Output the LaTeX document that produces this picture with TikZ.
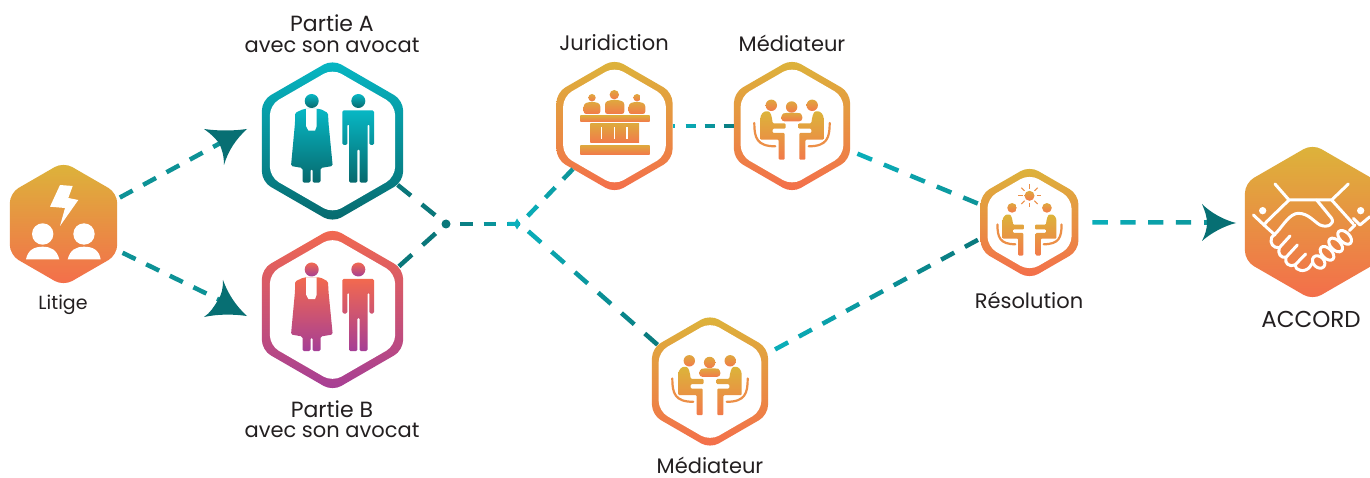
\documentclass[tikz,border=0pt]{standalone}
\usepackage{fontspec}
\setmainfont{Poppins}
\usetikzlibrary{shapes.geometric,calc}
\definecolor{yel}{HTML}{DCB43A}
\definecolor{ora}{HTML}{F46D4B}
\definecolor{tealtop}{HTML}{07B7C4}
\definecolor{tealbot}{HTML}{07696D}
\definecolor{redtop}{HTML}{F2694F}
\definecolor{purbot}{HTML}{A53E96}
\definecolor{ic1}{HTML}{DFA83E}
\definecolor{ic2}{HTML}{F27A4A}
\definecolor{chairc}{HTML}{EC8F47}
\definecolor{linelt}{HTML}{0AB0BC}
\definecolor{linemd}{HTML}{0D9296}
\definecolor{linedk}{HTML}{0A777A}
\definecolor{arrowc}{HTML}{076F73}
\definecolor{txt}{HTML}{231F20}
\tikzset{
  hexshape/.style={regular polygon,regular polygon sides=6,shape border rotate=30,inner sep=0pt,outer sep=0pt,minimum size=#1,rounded corners=10pt},
  goldhex/.style={hexshape=#1,top color=yel,bottom color=ora},
  tealhex/.style={hexshape=#1,top color=tealtop,bottom color=tealbot},
  redhex/.style={hexshape=#1,top color=redtop,bottom color=purbot},
  innerhex/.style={hexshape=#1,fill=white},
  lbl/.style={text=txt,font=\fontsize{21}{24}\selectfont,inner sep=0pt,anchor=center},
  connseg/.style={line width=4.5pt},
  headshade/.style={top color=ic1,bottom color=ic2},
  handline/.style={draw=white,line width=3pt,line cap=round,line join=round},
}
\newcommand\conn[7]{% from,to,colA,colB,n,startgap,endgap
  \coordinate (cs) at ($(#1)!#6pt!(#2)$);
  \coordinate (ce) at ($(#2)!#7pt!(#1)$);
  \foreach \i in {1,...,#5}{
    \pgfmathsetmacro\ta{(\i-1)/(#5-0.45)}
    \pgfmathsetmacro\tb{(\i-0.45)/(#5-0.45)}
    \pgfmathsetmacro\pc{100*(\i-0.5)/#5}
    \draw[connseg,draw={#4!\pc!#3}] ($(cs)!\ta!(ce)$) -- ($(cs)!\tb!(ce)$);
  }}
% pair of figures (top colour, bottom colour)
\newcommand\pairicon[3]{%
  \begin{scope}[shift={(#1)}]
    \shade[top color=#2,bottom color=#3] (-20.8,-40) circle (7);
    \shade[top color=#2,bottom color=#3] (25.8,-40) circle (7);
    \shade[top color=#2,bottom color=#3,rounded corners=1.5pt]
      (-29,-32) -- (-12,-32) -- (-4.5,-28) -- (-4,-18) -- (0.2,25) -- (-12,27) -- (-12,41.7) -- (-20,41.7) -- (-20,28) -- (-22,28) -- (-22,41.7) -- (-30,41.7) -- (-30,27) -- (-41.5,25) -- (-37.5,-18) -- (-37.5,-28) -- cycle;
    \fill[white] (-26.5,-32) -- (-15.8,-32) -- (-15.8,-15) -- (-17.5,-10.3) -- (-24,-10.3) -- (-26.5,-15) -- cycle;
    \shade[top color=#2,bottom color=#3,rounded corners=1.5pt]
      (9.8,-30.7) -- (41.5,-30.7) -- (41.5,4) -- (36.8,4) -- (36.8,-17) -- (35,-17) -- (35,41.7) -- (27,41.7) -- (27,8) -- (24.8,8) -- (24.8,41.7) -- (16.5,41.7) -- (16.5,-17) -- (14.8,-17) -- (14.8,4) -- (9.8,4) -- cycle;
  \end{scope}}
% one seated person with chair, left side
\newcommand\seated{%
  \shade[top color=yel,bottom color=ic2,rounded corners=1pt]
    (-31.7,13.7) -- (-31.7,-6.3) .. controls (-31.7,-12) and (-28,-14.7) .. (-25,-14.7) .. controls (-21,-14.7) and (-20,-8) .. (-19.3,-2.7) -- (-6.5,-2.7) -- (-6.5,2.7) -- (-19.3,2.7) -- (-19.3,7) -- (-7.3,7) -- (-7.3,33.7) -- (-13.3,33.7) -- (-13.3,13.7) -- cycle;
  \draw[chairc,line width=2.2pt,line cap=round] (-37.7,-3) .. controls (-37.7,12) and (-35,20.3) .. (-16.7,20.3);}
\newcommand\tableicon{%
  \seated
  \begin{scope}[xscale=-1]\seated\end{scope}
  \draw[white,line width=1.8pt] (-19,4.5) -- (19,4.5);}
\newcommand\meeticon[1]{%
  \begin{scope}[shift={(#1)}]
    \tableicon
    \shade[headshade] (-20.7,-20.7) circle (5.7);
    \shade[headshade] (20.2,-20.7) circle (5.7);
    \shade[headshade] (-0.4,-19) circle (5.7);
    \shade[headshade,rounded corners=3pt] (-10.7,-4.7) -- (-10.7,-12) -- (-6,-13.2) -- (6,-13.2) -- (10.3,-12) -- (10.3,-4.7) -- cycle;
  \end{scope}}
\begin{document}
\begin{tikzpicture}[x=1pt,y=-1pt]
\useasboundingbox (0,0) rectangle (1370,478);
\fill[white] (0,0) rectangle (1370,478);
% hexagons
\node[goldhex=124pt] (litige) at (63.5,224) {};
\node[tealhex=163pt] (partieA) at (332.5,141) {};
\node[innerhex=144.5pt] (partieAin) at (partieA) {};
\node[redhex=163pt] (partieB) at (332.5,309.5) {};
\node[innerhex=144.5pt] (partieBin) at (partieB) {};
\node[goldhex=134pt] (juridiction) at (614.5,126) {};
\node[innerhex=118.5pt] (juridictionin) at (juridiction) {};
\node[goldhex=134pt] (mediateurH) at (792,126) {};
\node[innerhex=118.5pt] (mediateurHin) at (mediateurH) {};
\node[goldhex=134pt] (mediateurB) at (710,381.5) {};
\node[innerhex=118.5pt] (mediateurBin) at (mediateurB) {};
\node[goldhex=113pt] (resolution) at (1029.5,222.5) {};
\node[innerhex=97pt] (resolutionin) at (resolution) {};
\node[goldhex=156pt] (accord) at (1312.5,222) {};
% free connector ends
\coordinate (junc) at (446,224);
\coordinate (split) at (520,224);
\coordinate (tailA) at (226,140);
\coordinate (tailB) at (230,305);
\coordinate (tailC) at (1219,222.5);
% connectors
\conn{litige.25}{tailA}{linemd}{linemd}{5}{3}{0}
\conn{litige.-26}{tailB}{linemd}{linemd}{5}{6}{0}
\conn{partieA.-34}{junc}{linedk}{linedk}{2}{0}{14}
\conn{partieB.33}{junc}{linedk}{linedk}{2}{0}{14}
\conn{junc}{split}{linedk}{linelt}{3}{14}{0}
\conn{split}{juridiction.226}{linelt}{linemd}{3}{11}{0}
\conn{split}{mediateurB.145}{linelt}{linedk}{6}{11}{0}
\conn{juridiction.0}{mediateurH.180}{linelt}{linedk}{3}{13}{0}
\draw[connseg,linelt] (juridiction.0) -- ++(2.5,0);
\conn{mediateurH.-23}{resolution.160}{linelt}{linemd}{5}{8}{3}
\conn{mediateurB.26}{resolution.198}{linelt}{linedk}{9}{8}{3}
\conn{resolution.0}{tailC}{linelt}{linemd}{5}{14}{0}
% junction marks
\fill[linedk] (junc) circle (4.5);
\fill[linelt] (508,222) -- (515,222) -- (517,218.5) -- (520.5,224) -- (517,229.5) -- (515,226) -- (508,226) -- cycle;
% arrowheads
\fill[arrowc] (247,129) .. controls (236,139) and (228,151) .. (224,165) .. controls (224,156) and (222,149) .. (219,143) .. controls (215,138) and (210,133) .. (204,129) .. controls (218,131) and (233,131) .. (247,129) -- cycle;
\fill[arrowc] (247,316) .. controls (236,306) and (228,294) .. (223,280) .. controls (223,288) and (222,294) .. (218,300) .. controls (214,307) and (210,313) .. (204,317) .. controls (218,314) and (233,314) .. (247,316) -- cycle;
\fill[arrowc] (1236,223) .. controls (1224,220) and (1211,213) .. (1202,204) .. controls (1205,211) and (1207,217) .. (1207,223) .. controls (1207,229) and (1205,235) .. (1202,241) .. controls (1211,233) and (1224,226) .. (1236,223) -- cycle;
% litige icon
\fill[white] (60,185) -- (72.7,186) -- (68.3,198) -- (78.3,200) -- (60,226) -- (65,208) -- (50,206.7) -- cycle;
\fill[white] (42.7,234) circle (10.7);
\fill[white] (84,234) circle (10.7);
\fill[white] (26,259.3) .. controls (28,250) and (34,246.7) .. (42.7,246.7) .. controls (51,246.7) and (57,250) .. (59.3,259.3) -- cycle;
\fill[white] (67.7,259.3) .. controls (70,250) and (76,246.7) .. (84,246.7) .. controls (93,246.7) and (99,250) .. (100.7,259.3) -- cycle;
% figures
\pairicon{partieA}{tealtop}{tealbot}
\pairicon{partieB}{redtop}{purbot}
% court icon
\begin{scope}[shift={(juridiction)}]
  \shade[headshade] (-22.5,-28.3) circle (3.7);
  \shade[headshade] (-0.2,-31.3) circle (4.7);
  \shade[headshade] (22.5,-28.3) circle (3.7);
  \shade[headshade,rounded corners=2.5pt] (-30.8,-12) -- (-30.8,-22) -- (-26,-24) -- (-19,-24) -- (-14.2,-22) -- (-14.2,-12) -- cycle;
  \shade[headshade,rounded corners=2.5pt] (-9.5,-12) -- (-9.5,-24) -- (-4,-26) -- (4,-26) -- (9.8,-24) -- (9.8,-12) -- cycle;
  \shade[headshade,rounded corners=2.5pt] (14.2,-12) -- (14.2,-22) -- (19,-24) -- (26,-24) -- (30.8,-22) -- (30.8,-12) -- cycle;
  \shade[headshade] (-34.2,-10) rectangle (35,-4.3);
  \shade[headshade] (-24.2,-2) rectangle (24.5,16.7);
  \fill[white] (-13.7,1.3) rectangle (-12.3,13.3);
  \fill[white] (-0.7,1.3) rectangle (0.7,13.3);
  \fill[white] (11.8,1.3) rectangle (13.2,13.3);
  \shade[headshade] (-34.2,19.3) rectangle (35,28.3);
\end{scope}
% meeting icons
\meeticon{mediateurH}
\meeticon{mediateurB}
% resolution icon
\begin{scope}[shift={(resolution)},shift={(0,4.5)},scale=.85]
  \tableicon
  \shade[headshade] (-20.5,-22.5) circle (5.7);
  \shade[headshade] (20.5,-22.5) circle (5.7);
\end{scope}
\begin{scope}[shift={(resolution)},shift={(0,-26.7)}]
  \shade[headshade] (0,0) circle (5);
  \foreach \a in {0,45,...,315}
    \draw[chairc,line width=1.1pt] (\a:7) -- (\a:11.5);
\end{scope}
% handshake
\begin{scope}[shift={(1240,150)},x=.3333pt,y=-.3333pt]
  \fill[white] (68,182) circle (11);
  \fill[white] (362,182) circle (11);
  \draw[handline] (105,102) -- (147,150) -- (275,150) -- (325,102);
  \draw[handline] (147,150) -- (80,215);
  \draw[handline] (40,195) -- (72,225) -- (80,215);
  \draw[handline] (72,225) -- (105,255);
  \draw[handline] (275,150) -- (340,222);
  \draw[handline] (390,200) -- (360,225) -- (340,205);
  \draw[handline] (345,225) -- (328,242);
  \draw[handline] (230,150) -- (275,205) .. controls (285,222) and (262,235) .. (240,225) .. controls (222,215) and (205,190) .. (175,190) .. controls (150,190) and (130,225) .. (112,245) -- (95,262)
     .. controls (88,280) and (100,295) .. (118,293)
     .. controls (112,310) and (122,325) .. (138,322)
     .. controls (132,340) and (148,352) .. (165,345)
     .. controls (165,362) and (195,370) .. (210,350) -- (218,338);
  \draw[handline] (150,258) -- (118,293);
  \draw[handline] (172,285) -- (138,322);
  \draw[handline] (197,312) -- (165,345);
  \draw[handline,rotate around={-45:(314,262)}] (314,262) ellipse (25 and 15);
  \draw[handline,rotate around={-45:(287,285)}] (287,285) ellipse (25 and 15);
  \draw[handline,rotate around={-45:(261,310)}] (261,310) ellipse (25 and 15);
  \draw[handline,rotate around={-45:(236,336)}] (236,336) ellipse (21 and 16);
\end{scope}
% labels
\node[lbl] (lLitige) at (63,305) {\fontsize{19}{22}\selectfont Litige};
\node[lbl] (lA1) at (332,23) {\fontsize{22}{24}\selectfont Partie A};
\node[lbl] (lA2) at (332,45) {avec son avocat};
\node[lbl] (lB1) at (332,409) {\fontsize{22}{24}\selectfont Partie B};
\node[lbl] (lB2) at (332,430) {avec son avocat};
\node[lbl] (lJ) at (614,43) {Juridiction};
\node[lbl] (lM1) at (792,43) {Médiateur};
\node[lbl] (lM2) at (710,465) {Médiateur};
\node[lbl] (lR) at (1029,300) {Résolution};
\node[lbl] (lC) at (1311,319) {\fontsize{23}{26}\selectfont ACCORD};
\end{tikzpicture}
\end{document}
